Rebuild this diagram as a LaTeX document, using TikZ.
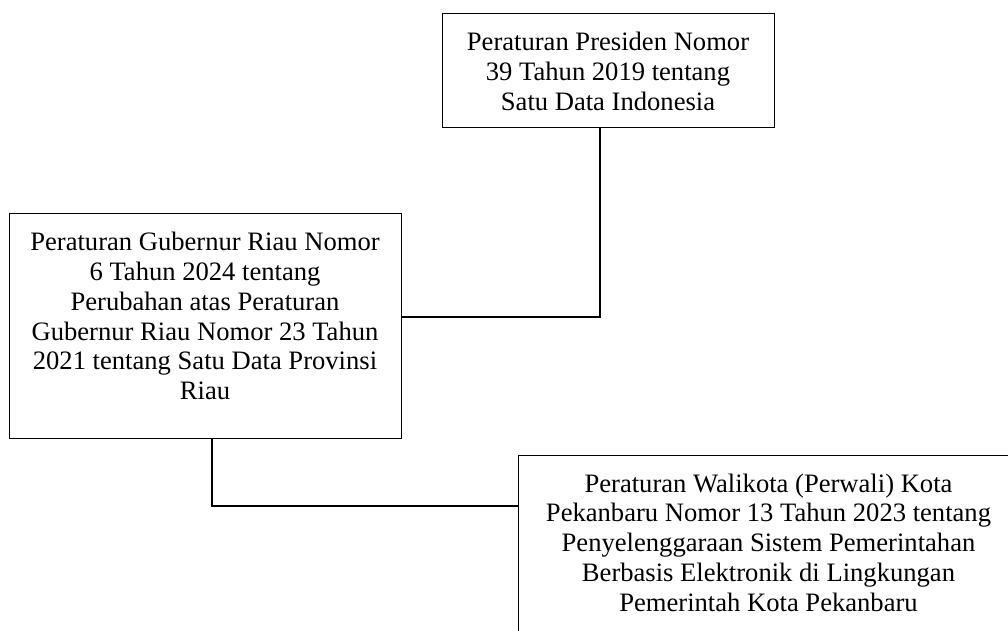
\documentclass[tikz,border=0pt]{standalone}
\usepackage{fontspec}
\setmainfont{Liberation Serif}
\begin{document}
\begin{tikzpicture}[x=1pt,y=-1pt,
  box/.style={draw=black, line width=1pt, rectangle, inner sep=0pt},
  txt/.style={inner sep=0pt, align=center, anchor=north, font=\fontsize{26.6}{29.8}\selectfont},
  conn/.style={draw=black, line width=1.7pt}]
\useasboundingbox (0,0) rectangle (1008,630);
% boxes
\node[box, minimum width=332pt, minimum height=114pt] (pres) at (608,70) {};
\node[box, minimum width=392pt, minimum height=225pt] (gub) at (205,325.5) {};
\node[box, minimum width=501pt, minimum height=210pt] (wal) at (768.5,560) {};
% texts
\node[txt] (presT) at ([yshift=-19.5pt]pres.north) {Peraturan Presiden Nomor\\39 Tahun 2019 tentang\\Satu Data Indonesia};
\node[txt] (gubT) at ([yshift=-19.5pt]gub.north) {Peraturan Gubernur Riau Nomor\\6 Tahun 2024 tentang\\Perubahan atas Peraturan\\Gubernur Riau Nomor 23 Tahun\\2021 tentang Satu Data Provinsi\\Riau};
\node[txt] (walT) at ([yshift=-19pt]wal.north) {Peraturan Walikota (Perwali) Kota\\Pekanbaru Nomor 13 Tahun 2023 tentang\\Penyelenggaraan Sistem Pemerintahan\\Berbasis Elektronik di Lingkungan\\Pemerintah Kota Pekanbaru};
% connectors
\coordinate (j1) at (600,317);
\coordinate (j2) at (212,506);
\draw[conn] (pres.south -| j1) -- (j1) -- (gub.east |- j1);
\draw[conn] (gub.south -| j2) -- (j2) -- (wal.west |- j2);
\end{tikzpicture}
\end{document}
